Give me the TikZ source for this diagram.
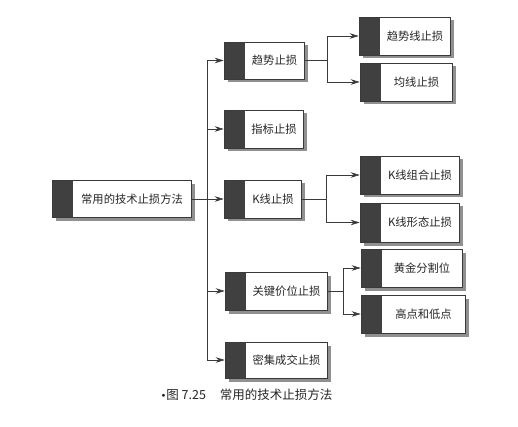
\documentclass[tikz,border=0pt]{standalone}
\usepackage{fontspec}
\setmainfont{Noto Sans CJK SC}
\newfontfamily\djfont{DejaVu Sans}
\usetikzlibrary{shadows,arrows.meta}
\definecolor{barc}{HTML}{404040}
\definecolor{linec}{HTML}{3A3A3A}
\definecolor{shadc}{HTML}{909090}
\tikzset{
  boxnode/.style={draw=linec, line width=0.6pt, fill=white, rectangle, inner sep=0pt,
    drop shadow={shadow xshift=3.5pt, shadow yshift=-3.5pt, fill=shadc, opacity=1},
    path picture={\fill[barc] (path picture bounding box.north west) rectangle ([xshift=21pt]path picture bounding box.south west);}},
  boxtext/.style={font=\fontsize{11.3}{13}\selectfont, text=black!85},
  conn/.style={draw=linec, line width=0.6pt},
  arr/.style={conn, -{Stealth[length=9pt,width=5.5pt]}}
}
\newcommand{\mybox}[6]{% name, cx, cy, w, h, text
  \node[boxnode, minimum width=#4pt, minimum height=#5pt,
        label={[boxtext, xshift=10.5pt]center:#6}] (#1) at (#2,#3) {};}
\begin{document}
\begin{tikzpicture}[x=1pt,y=-1pt]
\useasboundingbox (0,0) rectangle (518,427);
\fill[white] (0,0) rectangle (518,427);
% main
\mybox{m}{121.5}{199}{139}{37}{常用的技术止损方法}
% level 1
\mybox{b1}{264}{60.5}{80}{37}{趋势止损}
\mybox{b2}{263.5}{129}{79}{38}{指标止损}
\mybox{b3}{262.5}{199}{77}{38}{K线止损}
\mybox{b4}{276}{291}{102}{38}{关键价位止损}
\mybox{b5}{276}{360}{102}{36}{密集成交止损}
% level 2
\mybox{c1}{404.5}{36}{91}{38}{趋势线止损}
\mybox{c2}{406}{82}{92}{38}{均线止损}
\mybox{c3}{409.5}{175}{99}{38}{K线组合止损}
\mybox{c4}{409.5}{222.5}{99}{39}{K线形态止损}
\mybox{c5}{411.5}{268}{101}{38}{黄金分割位}
\mybox{c6}{413}{314}{104}{38}{高点和低点}
% trunk
\coordinate (t) at (207,199);
\draw[conn] (m.east) -- (t);
\draw[conn] (207,60.5) -- (207,360);
\foreach \b in {b1,b2,b3,b4,b5}{
  \draw[arr] (207,0 |- \b.west) -- (\b.west);
}
% branches
\draw[conn] (b1.east) -- (327,60.5);
\draw[conn] (327,0 |- c1.west) -- (327,0 |- c2.west);
\draw[arr] (327,0 |- c1.west) -- (c1.west);
\draw[arr] (327,0 |- c2.west) -- (c2.west);
\draw[conn] (b3.east) -- (326,199);
\draw[conn] (326,0 |- c3.west) -- (326,0 |- c4.west);
\draw[arr] (326,0 |- c3.west) -- (c3.west);
\draw[arr] (326,0 |- c4.west) -- (c4.west);
\draw[conn] (b4.east) -- (343,291);
\draw[conn] (343,0 |- c5.west) -- (343,0 |- c6.west);
\draw[arr] (343,0 |- c5.west) -- (c5.west);
\draw[arr] (343,0 |- c6.west) -- (c6.west);
% caption
\node[anchor=west, font=\fontsize{12.5}{14}\selectfont, text=black!85] (cap) at (157,395) {{\djfont\fontsize{10}{12}\selectfont •}图 7.25\hspace{1.1em}常用的技术止损方法};
\end{tikzpicture}
\end{document}
